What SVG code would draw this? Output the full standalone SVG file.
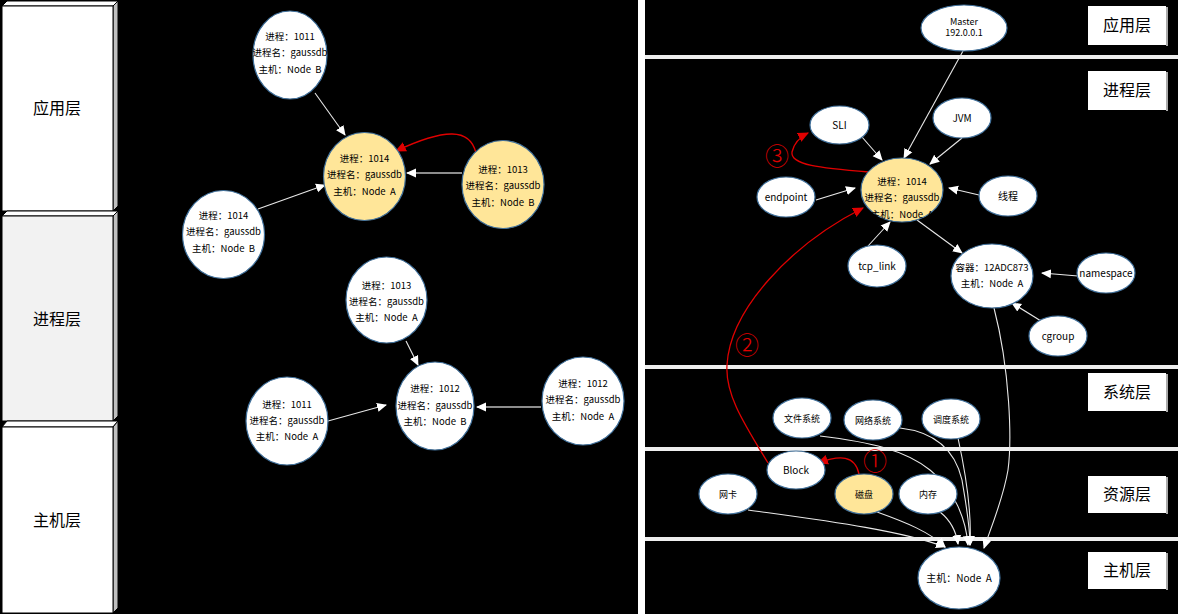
<svg xmlns="http://www.w3.org/2000/svg" width="1178" height="614" viewBox="0 0 1178 614">
<defs>
<style>
text{font-family:"Noto Sans CJK SC","Microsoft YaHei","Noto Sans",sans-serif;fill:#000;text-anchor:middle;white-space:pre}
.t{font-size:9.5px}
.u{font-size:10px}
.m{font-size:9px}
.lbl{font-size:16px}
.n{fill:#fff;stroke:#41719c;stroke-width:1.2}
.y{fill:#ffe699;stroke:#41719c;stroke-width:1.2}
.c{fill:none;stroke:#e8e8e8;stroke-width:1.1}
.r{fill:none;stroke:#e00000;stroke-width:1.3}
.bar{fill:#eeeeee}
.num{font-size:24px;font-weight:300;fill:#e00000}
.bx{fill:#fff;stroke:#000;stroke-width:1}
.side{fill:#bfbfbf;stroke:#000;stroke-width:1}
</style>
<marker id="aw" viewBox="0 0 10 10" refX="9" refY="5" markerWidth="10" markerHeight="10" markerUnits="userSpaceOnUse" orient="auto"><path d="M0,0.5 L10,5 L0,9.5 z" fill="#fff"/></marker>
<marker id="ar" viewBox="0 0 10 10" refX="9" refY="5" markerWidth="11" markerHeight="11" markerUnits="userSpaceOnUse" orient="auto"><path d="M0,0.5 L10,5 L0,9.5 z" fill="#e00000"/></marker>
</defs>
<rect x="0" y="0" width="1178" height="614" fill="#000"/>
<rect x="638" y="0" width="7" height="614" fill="#fff"/>

<!-- left layer boxes -->
<g id="left-app">
<polygon class="bx" points="2,6 7,1 118,1 113,6"/>
<polygon class="side" points="113,6 118,1 118,206 113,211"/>
<rect class="bx" x="2" y="6" width="111" height="205"/>
<text class="lbl" x="57" y="114">应用层</text>
</g>
<g id="left-proc">
<polygon class="bx" points="2,216 7,211 118,211 113,216"/>
<polygon class="side" points="113,216 118,211 118,416 113,421"/>
<rect x="2" y="216" width="111" height="205" fill="#f2f2f2" stroke="#000"/>
<text class="lbl" x="57" y="325">进程层</text>
</g>
<g id="left-host">
<polygon class="bx" points="2,427 7,421 118,421 113,427"/>
<polygon class="side" points="113,427 118,421 118,608 113,613"/>
<rect class="bx" x="2" y="427" width="111" height="186"/>
<text class="lbl" x="57" y="526">主机层</text>
</g>

<!-- right layer bars -->
<g id="bars">
<rect class="bar" x="645" y="55" width="533" height="4"/>
<rect class="bar" x="645" y="365" width="533" height="4"/>
<rect class="bar" x="645" y="447" width="533" height="4"/>
<rect class="bar" x="645" y="537" width="533" height="4"/>
</g>

<!-- right labels -->
<g id="r-app"><rect x="1088" y="6" width="78" height="39" fill="#fff"/><line x1="1167" y1="7" x2="1167" y2="46" stroke="#aaa" stroke-width="2"/><text class="lbl" x="1127" y="31">应用层</text></g>
<g id="r-proc"><rect x="1088" y="71" width="78" height="39" fill="#fff"/><line x1="1167" y1="72" x2="1167" y2="111" stroke="#aaa" stroke-width="2"/><text class="lbl" x="1127" y="96">进程层</text></g>
<g id="r-sys"><rect x="1088" y="373" width="78" height="38" fill="#fff"/><line x1="1167" y1="374" x2="1167" y2="412" stroke="#aaa" stroke-width="2"/><text class="lbl" x="1127" y="398">系统层</text></g>
<g id="r-res"><rect x="1088" y="476" width="78" height="37" fill="#fff"/><line x1="1167" y1="477" x2="1167" y2="514" stroke="#aaa" stroke-width="2"/><text class="lbl" x="1127" y="500">资源层</text></g>
<g id="r-host"><rect x="1088" y="552" width="78" height="37" fill="#fff"/><line x1="1167" y1="553" x2="1167" y2="590" stroke="#aaa" stroke-width="2"/><text class="lbl" x="1127" y="576">主机层</text></g>

<!-- connectors -->
<g id="connectors">
<!-- left -->
<line class="c" x1="315" y1="93" x2="345" y2="135" marker-end="url(#aw)"/>
<line x1="462" y1="173" x2="407" y2="173" stroke="#bbb" stroke-width="1.6" marker-end="url(#aw)"/>
<line class="c" x1="258" y1="209" x2="325" y2="185" marker-end="url(#aw)"/>
<line class="c" x1="406" y1="341" x2="418" y2="365" marker-end="url(#aw)"/>
<line class="c" x1="328" y1="421" x2="386" y2="405" marker-end="url(#aw)"/>
<line x1="541" y1="407" x2="477" y2="407" stroke="#bbb" stroke-width="1.6" marker-end="url(#aw)"/>
<path class="r" d="M476,153 C470,128 445,128 396,151" marker-end="url(#ar)"/>
<!-- right -->
<line class="c" x1="963" y1="51" x2="904" y2="158" marker-end="url(#aw)"/>
<line class="c" x1="862" y1="137" x2="882" y2="160" marker-end="url(#aw)"/>
<line class="c" x1="962" y1="138" x2="930" y2="164" marker-end="url(#aw)"/>
<line class="c" x1="816" y1="200" x2="855" y2="188" marker-end="url(#aw)"/>
<line class="c" x1="979" y1="195" x2="949" y2="188" marker-end="url(#aw)"/>
<line class="c" x1="868" y1="246" x2="890" y2="222" marker-end="url(#aw)"/>
<line class="c" x1="917" y1="220" x2="962" y2="253" marker-end="url(#aw)"/>
<line class="c" x1="1078" y1="276" x2="1042" y2="273" marker-end="url(#aw)"/>
<line class="c" x1="1041" y1="321" x2="1012" y2="303" marker-end="url(#aw)"/>
<path class="c" d="M994,308 C1010,370 1012,440 1008,470 C1003,500 990,530 984,548" marker-end="url(#aw)"/>
<path class="c" d="M748,510 C820,520 900,530 945,547" marker-end="url(#aw)"/>
<path class="c" d="M877,512 C905,522 930,532 945,547" marker-end="url(#aw)"/>
<path class="c" d="M940,512 C950,520 956,530 958,544" marker-end="url(#aw)"/>
<path class="c" d="M820,436 C870,442 905,450 930,470 C955,490 966,520 968,545" marker-end="url(#aw)"/>
<path class="c" d="M900,428 C935,432 955,450 962,480 C966,505 970,525 970,545" marker-end="url(#aw)"/>
<path class="c" d="M958,438 C965,470 972,510 970,545" marker-end="url(#aw)"/>
<path class="r" d="M869,172 C820,168 790,165 792,152 C794,143 800,137 808,133" marker-end="url(#ar)"/>
<path class="r" d="M768,463 C745,425 725,395 727,365 C730,310 790,245 863,208" marker-end="url(#ar)"/>
<path class="r" d="M859,474 C855,455 840,455 818,463" marker-end="url(#ar)"/>
</g>

<!-- circled numbers -->
<text class="num" x="777" y="165">③</text>
<text class="num" x="747" y="354">②</text>
<text class="num" x="875" y="470">①</text>

<!-- left nodes -->
<g id="l-1011B"><ellipse class="n" cx="290" cy="55" rx="37" ry="44"/>
<text class="t" x="290" y="40">进程：1011</text><text class="t" x="290" y="56">进程名：gaussdb</text><text class="t" x="290" y="73">主机：Node  B</text></g>
<g id="l-1014A"><ellipse class="y" cx="364.5" cy="176.5" rx="41" ry="44"/>
<text class="t" x="364.5" y="162">进程：1014</text><text class="t" x="364.5" y="178">进程名：gaussdb</text><text class="t" x="364.5" y="195">主机：Node  A</text></g>
<g id="l-1013B"><ellipse class="y" cx="503" cy="184.5" rx="41" ry="44"/>
<text class="t" x="503" y="173">进程：1013</text><text class="t" x="503" y="189">进程名：gaussdb</text><text class="t" x="503" y="206">主机：Node  B</text></g>
<g id="l-1014B"><ellipse class="n" cx="223.5" cy="234.5" rx="41" ry="44"/>
<text class="t" x="223.5" y="219">进程：1014</text><text class="t" x="223.5" y="235">进程名：gaussdb</text><text class="t" x="223.5" y="252">主机：Node  B</text></g>
<g id="l-1013A"><ellipse class="n" cx="386.5" cy="300" rx="40.5" ry="43"/>
<text class="t" x="386.5" y="289">进程：1013</text><text class="t" x="386.5" y="305">进程名：gaussdb</text><text class="t" x="386.5" y="321">主机：Node  A</text></g>
<g id="l-1012B"><ellipse class="n" cx="435" cy="406" rx="39" ry="44"/>
<text class="t" x="435" y="392">进程：1012</text><text class="t" x="435" y="409">进程名：gaussdb</text><text class="t" x="435" y="425">主机：Node  B</text></g>
<g id="l-1011A"><ellipse class="n" cx="287" cy="421" rx="41" ry="44"/>
<text class="t" x="287" y="408">进程：1011</text><text class="t" x="287" y="424">进程名：gaussdb</text><text class="t" x="287" y="440">主机：Node  A</text></g>
<g id="l-1012A"><ellipse class="n" cx="583" cy="401" rx="41" ry="44"/>
<text class="t" x="583" y="387">进程：1012</text><text class="t" x="583" y="403">进程名：gaussdb</text><text class="t" x="583" y="420">主机：Node  A</text></g>

<!-- right nodes -->
<g id="r-master"><ellipse class="n" cx="964" cy="28" rx="43" ry="23"/>
<text class="m" x="964" y="25">Master</text><text class="m" x="964" y="36">192.0.0.1</text></g>
<g id="r-sli"><ellipse class="n" cx="839.5" cy="125" rx="29.5" ry="19"/><text class="u" x="839.5" y="129">SLI</text></g>
<g id="r-jvm"><ellipse class="n" cx="962" cy="118" rx="29" ry="20"/><text class="u" x="962" y="122">JVM</text></g>
<g id="r-1014"><ellipse class="y" cx="902" cy="190" rx="41" ry="32"/>
<text class="t" x="902" y="185">进程：1014</text><text class="t" x="902" y="201">进程名：gaussdb</text><text class="t" x="902" y="218">主机：Node  A</text></g>
<g id="r-endpoint"><ellipse class="n" cx="786" cy="197" rx="29" ry="20"/><text class="u" x="786" y="201">endpoint</text></g>
<g id="r-thread"><ellipse class="n" cx="1008" cy="196" rx="29" ry="20"/><text class="u" x="1008" y="200">线程</text></g>
<g id="r-tcp"><ellipse class="n" cx="877" cy="266" rx="29" ry="21"/><text class="u" x="877" y="270">tcp_link</text></g>
<g id="r-container"><ellipse class="n" cx="992" cy="276" rx="41" ry="32"/>
<text class="t" x="992" y="271">容器：12ADC873</text><text class="t" x="992" y="287">主机：Node  A</text></g>
<g id="r-namespace"><ellipse class="n" cx="1106" cy="273" rx="29" ry="20"/><text class="u" x="1106" y="277">namespace</text></g>
<g id="r-cgroup"><ellipse class="n" cx="1058" cy="336" rx="29" ry="20"/><text class="u" x="1058" y="340">cgroup</text></g>
<g id="r-fs"><ellipse class="n" cx="802" cy="418" rx="29" ry="20"/><text class="m" x="802" y="422">文件系统</text></g>
<g id="r-net"><ellipse class="n" cx="873" cy="420" rx="29" ry="20"/><text class="m" x="873" y="424">网络系统</text></g>
<g id="r-sched"><ellipse class="n" cx="951" cy="419" rx="29" ry="20"/><text class="m" x="951" y="423">调度系统</text></g>
<g id="r-block"><ellipse class="n" cx="796" cy="470" rx="29" ry="19"/><text class="u" x="796" y="474">Block</text></g>
<g id="r-disk"><ellipse class="y" cx="864" cy="494" rx="29" ry="20"/><text class="m" x="864" y="498">磁盘</text></g>
<g id="r-nic"><ellipse class="n" cx="728" cy="494" rx="29" ry="20"/><text class="m" x="728" y="498">网卡</text></g>
<g id="r-mem"><ellipse class="n" cx="928" cy="494" rx="29" ry="20"/><text class="m" x="928" y="498">内存</text></g>
<g id="r-host-node"><ellipse class="n" cx="959" cy="578" rx="41" ry="31"/><text class="u" x="959" y="582">主机：Node  A</text></g>
</svg>
